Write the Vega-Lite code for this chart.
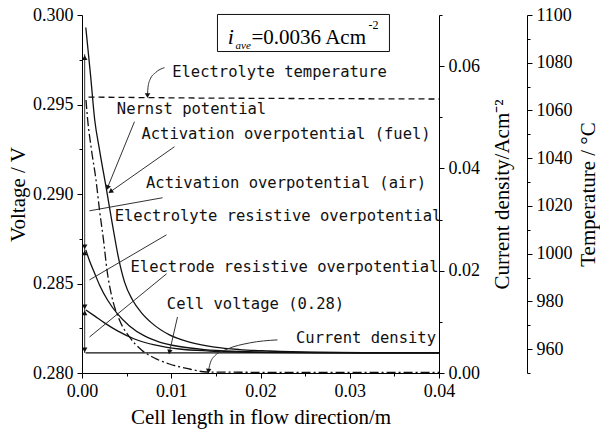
{
  "$schema": "https://vega.github.io/schema/vega-lite/v6.json",
  "width": 357,
  "height": 358,
  "autosize": {"type": "none"},
  "padding": {"left": 82, "top": 15, "right": 161, "bottom": 61},
  "background": "white",
  "config": {
    "view": {"stroke": null},
    "axis": {
      "domainColor": "#000", "tickColor": "#000", "labelColor": "#000", "titleColor": "#000",
      "labelFont": "Liberation Serif", "titleFont": "Liberation Serif",
      "labelFontSize": 18, "titleFontSize": 21, "titleFontWeight": "normal",
      "grid": false, "labelOverlap": false, "labelFlush": false, "labelBound": false,
      "domainWidth": 1, "tickWidth": 1
    }
  },
  "datasets": {
    "volt": [
      {"s": "Nernst", "x": 0.000426, "v": 0.29930},
      {"s": "Nernst", "x": 0.000952, "v": 0.29667},
      {"s": "Nernst", "x": 0.001423, "v": 0.29415},
      {"s": "Nernst", "x": 0.001961, "v": 0.29247},
      {"s": "Nernst", "x": 0.002745, "v": 0.29024},
      {"s": "Nernst", "x": 0.003417, "v": 0.28828},
      {"s": "Nernst", "x": 0.00409, "v": 0.28643},
      {"s": "Nernst", "x": 0.00476, "v": 0.28509},
      {"s": "Nernst", "x": 0.00566, "v": 0.28408},
      {"s": "Nernst", "x": 0.00667, "v": 0.28336},
      {"s": "Nernst", "x": 0.00779, "v": 0.28280},
      {"s": "Nernst", "x": 0.0098, "v": 0.28213},
      {"s": "Nernst", "x": 0.01204, "v": 0.28173},
      {"s": "Nernst", "x": 0.01485, "v": 0.28145},
      {"s": "Nernst", "x": 0.01765, "v": 0.28131},
      {"s": "Nernst", "x": 0.02101, "v": 0.28123},
      {"s": "Nernst", "x": 0.02549, "v": 0.28116},
      {"s": "Nernst", "x": 0.03221, "v": 0.28113},
      {"s": "Nernst", "x": 0.04, "v": 0.28112},
      {"s": "c2", "x": 0.000426, "v": 0.28688},
      {"s": "c2", "x": 0.00084, "v": 0.28627},
      {"s": "c2", "x": 0.0014, "v": 0.28559},
      {"s": "c2", "x": 0.00196, "v": 0.28492},
      {"s": "c2", "x": 0.00286, "v": 0.28408},
      {"s": "c2", "x": 0.00398, "v": 0.28330},
      {"s": "c2", "x": 0.00532, "v": 0.28263},
      {"s": "c2", "x": 0.007, "v": 0.28207},
      {"s": "c2", "x": 0.00868, "v": 0.28173},
      {"s": "c2", "x": 0.01092, "v": 0.28148},
      {"s": "c2", "x": 0.01373, "v": 0.28131},
      {"s": "c2", "x": 0.01765, "v": 0.28121},
      {"s": "c2", "x": 0.02325, "v": 0.28115},
      {"s": "c2", "x": 0.03109, "v": 0.28113},
      {"s": "c2", "x": 0.04, "v": 0.28112},
      {"s": "c3", "x": 0.000426, "v": 0.28352},
      {"s": "c3", "x": 0.0014, "v": 0.28319},
      {"s": "c3", "x": 0.00252, "v": 0.28280},
      {"s": "c3", "x": 0.00398, "v": 0.28235},
      {"s": "c3", "x": 0.00588, "v": 0.28190},
      {"s": "c3", "x": 0.00812, "v": 0.28157},
      {"s": "c3", "x": 0.01092, "v": 0.28134},
      {"s": "c3", "x": 0.01429, "v": 0.28123},
      {"s": "c3", "x": 0.01877, "v": 0.28116},
      {"s": "c3", "x": 0.02661, "v": 0.28113},
      {"s": "c3", "x": 0.04, "v": 0.28112},
      {"s": "cell", "x": 0.0004, "v": 0.28112},
      {"s": "cell", "x": 0.04, "v": 0.28112}
    ],
    "cd": [
      {"x": 0.000448, "j": 0.05338},
      {"x": 0.000616, "j": 0.04986},
      {"x": 0.001064, "j": 0.04360},
      {"x": 0.001569, "j": 0.03773},
      {"x": 0.001961, "j": 0.03187},
      {"x": 0.00241, "j": 0.02600},
      {"x": 0.0028, "j": 0.02014},
      {"x": 0.0033, "j": 0.01525},
      {"x": 0.0042, "j": 0.01036},
      {"x": 0.00532, "j": 0.00704},
      {"x": 0.00667, "j": 0.00450},
      {"x": 0.00812, "j": 0.00293},
      {"x": 0.0098, "j": 0.00176},
      {"x": 0.01204, "j": 0.00078},
      {"x": 0.01395, "j": 0.00020},
      {"x": 0.01989, "j": 0.00014},
      {"x": 0.02997, "j": 0.00014},
      {"x": 0.04, "j": 0.00014}
    ],
    "temp": [
      {"x": 0.00073, "T": 1065.6},
      {"x": 0.01317, "T": 1065.2},
      {"x": 0.02437, "T": 1065.0},
      {"x": 0.04, "T": 1064.8}
    ],
    "ptr": [
      {"id": "Nernst", "x": 0.00588, "v": 0.29404, "x2": 0.002857, "v2": 0.29035},
      {"id": "fuel", "x": 0.01036, "v": 0.29264, "x2": 0.003193, "v2": 0.29013},
      {"id": "air", "x": 0.00902, "v": 0.28979, "x2": 0.00084, "v2": 0.28906},
      {"id": "electrolyte", "x": 0.00947, "v": 0.28772, "x2": 0.00084, "v2": 0.28520},
      {"id": "electrode", "x": 0.00947, "v": 0.28554, "x2": 0.00084, "v2": 0.28201},
      {"id": "cell", "x": 0.0107, "v": 0.28313, "x2": 0.0098, "v2": 0.28117},
      {"id": "span", "x": 0.0003, "v": 0.29781, "x2": 0.0003, "v2": 0.28112}
    ],
    "ptrc": [
      {"id": "temp", "o": 1, "x": 0.00924, "v": 0.29706},
      {"id": "temp", "o": 2, "x": 0.00824, "v": 0.29678},
      {"id": "temp", "o": 3, "x": 0.00762, "v": 0.29639},
      {"id": "temp", "o": 4, "x": 0.00739, "v": 0.29594},
      {"id": "temp", "o": 5, "x": 0.00734, "v": 0.29550},
      {"id": "cd", "o": 1, "x": 0.0219, "v": 0.28185},
      {"id": "cd", "o": 2, "x": 0.01877, "v": 0.28168},
      {"id": "cd", "o": 3, "x": 0.0163, "v": 0.28134},
      {"id": "cd", "o": 4, "x": 0.01485, "v": 0.28095},
      {"id": "cd", "o": 5, "x": 0.01434, "v": 0.28050},
      {"id": "cd", "o": 6, "x": 0.01417, "v": 0.28011}
    ],
    "heads": [
      {"x": 0.002857, "v": 0.29035, "angle": 202},
      {"x": 0.003193, "v": 0.29013, "angle": 235},
      {"x": 0.0098, "v": 0.28117, "angle": 193},
      {"x": 0.00734, "v": 0.29550, "angle": 180},
      {"x": 0.01417, "v": 0.28011, "angle": 185},
      {"x": 0.0003, "v": 0.29762, "angle": 0},
      {"x": 0.0003, "v": 0.28705, "angle": 180},
      {"x": 0.0003, "v": 0.28671, "angle": 0},
      {"x": 0.0003, "v": 0.28369, "angle": 180},
      {"x": 0.0003, "v": 0.28336, "angle": 0},
      {"x": 0.0003, "v": 0.28129, "angle": 180}
    ],
    "labels": [
      {"t": "Electrolyte temperature", "x": 0.02213, "v": 0.29684},
      {"t": "Nernst potential", "x": 0.01227, "v": 0.29477},
      {"t": "Activation overpotential (fuel)", "x": 0.02286, "v": 0.29337},
      {"t": "Activation overpotential (air)", "x": 0.02286, "v": 0.29063},
      {"t": "Electrolyte resistive overpotential", "x": 0.02196, "v": 0.28878},
      {"t": "Electrode resistive overpotential", "x": 0.02269, "v": 0.2859},
      {"t": "Cell voltage (0.28)", "x": 0.01944, "v": 0.28386},
      {"t": "Current density", "x": 0.03182, "v": 0.28196}
    ]
  },
  "layer": [
    {
      "layer": [
        {
          "data": {"name": "volt"},
          "mark": {"type": "line", "color": "#111", "strokeWidth": 1.3, "interpolate": "monotone"},
          "encoding": {
            "x": {"field": "x", "type": "quantitative", "scale": {"domain": [0, 0.04], "nice": false, "zero": false},
              "axis": {"values": [0, 0.005, 0.01, 0.015, 0.02, 0.025, 0.03, 0.035, 0.04],
                "labelExpr": "abs(datum.value*100 - round(datum.value*100)) < 0.001 ? format(datum.value, '.2f') : ''",
                "tickSize": {"condition": {"test": "abs(datum.value*100 - round(datum.value*100)) < 0.001", "value": 5}, "value": 3},
                "labelPadding": 4, "title": "Cell length in flow direction/m", "titlePadding": 6}},
            "y": {"field": "v", "type": "quantitative", "scale": {"domain": [0.28, 0.3], "nice": false, "zero": false},
              "axis": {"orient": "left", "values": [0.28, 0.2825, 0.285, 0.2875, 0.29, 0.2925, 0.295, 0.2975, 0.3],
                "labelExpr": "abs(datum.value*200 - round(datum.value*200)) < 0.001 ? format(datum.value, '.3f') : ''",
                "tickSize": {"condition": {"test": "abs(datum.value*200 - round(datum.value*200)) < 0.001", "value": 5}, "value": 3},
                "labelPadding": 4, "title": "Voltage / V", "titlePadding": 4}},
            "detail": {"field": "s", "type": "nominal"}
          }
        },
        {
          "data": {"name": "ptr"},
          "mark": {"type": "rule", "color": "#333", "strokeWidth": 1},
          "encoding": {
            "x": {"field": "x", "type": "quantitative"},
            "y": {"field": "v", "type": "quantitative"},
            "x2": {"field": "x2"},
            "y2": {"field": "v2"}
          }
        },
        {
          "data": {"name": "ptrc"},
          "mark": {"type": "line", "color": "#333", "strokeWidth": 1, "interpolate": "monotone"},
          "encoding": {
            "x": {"field": "x", "type": "quantitative"},
            "y": {"field": "v", "type": "quantitative"},
            "detail": {"field": "id", "type": "nominal"},
            "order": {"field": "o", "type": "quantitative"}
          }
        },
        {
          "data": {"name": "heads"},
          "mark": {"type": "point", "shape": "triangle-up", "filled": true, "color": "#111", "size": 30, "opacity": 1},
          "encoding": {
            "x": {"field": "x", "type": "quantitative"},
            "y": {"field": "v", "type": "quantitative"},
            "angle": {"field": "angle", "type": "quantitative", "scale": null}
          }
        },
        {
          "data": {"name": "labels"},
          "mark": {"type": "text", "font": "DejaVu Sans Mono", "fontSize": 15.5, "color": "#111", "align": "center", "baseline": "middle"},
          "encoding": {
            "x": {"field": "x", "type": "quantitative"},
            "y": {"field": "v", "type": "quantitative"},
            "text": {"field": "t"}
          }
        },
        {
          "data": {"values": [{"x": 0.01518, "x2": 0.03445, "v": 0.30003, "v2": 0.29796}]},
          "mark": {"type": "rect", "fill": "white", "stroke": "#111", "strokeWidth": 1},
          "encoding": {
            "x": {"field": "x", "type": "quantitative"},
            "x2": {"field": "x2"},
            "y": {"field": "v", "type": "quantitative"},
            "y2": {"field": "v2"}
          }
        },
        {
          "data": {"values": [{"t": "i", "x": 0.01633, "v": 0.2984}]},
          "mark": {"type": "text", "font": "Liberation Serif", "fontStyle": "italic", "fontSize": 22, "color": "#000", "align": "left", "baseline": "alphabetic"},
          "encoding": {"x": {"field": "x", "type": "quantitative"}, "y": {"field": "v", "type": "quantitative"}, "text": {"field": "t"}}
        },
        {
          "data": {"values": [{"t": "ave", "x": 0.0172, "v": 0.29812}]},
          "mark": {"type": "text", "font": "Liberation Serif", "fontStyle": "italic", "fontSize": 11, "color": "#000", "align": "left", "baseline": "alphabetic"},
          "encoding": {"x": {"field": "x", "type": "quantitative"}, "y": {"field": "v", "type": "quantitative"}, "text": {"field": "t"}}
        },
        {
          "data": {"values": [{"t": "=0.0036 Acm", "x": 0.01899, "v": 0.2984}]},
          "mark": {"type": "text", "font": "Liberation Serif", "fontSize": 21, "color": "#000", "align": "left", "baseline": "alphabetic"},
          "encoding": {"x": {"field": "x", "type": "quantitative"}, "y": {"field": "v", "type": "quantitative"}, "text": {"field": "t"}}
        },
        {
          "data": {"values": [{"t": "-2", "x": 0.0321, "v": 0.29919}]},
          "mark": {"type": "text", "font": "Liberation Serif", "fontSize": 12, "color": "#000", "align": "left", "baseline": "alphabetic"},
          "encoding": {"x": {"field": "x", "type": "quantitative"}, "y": {"field": "v", "type": "quantitative"}, "text": {"field": "t"}}
        }
      ]
    },
    {
      "data": {"name": "cd"},
      "mark": {"type": "line", "color": "#111", "strokeWidth": 1.3, "strokeDash": [9, 3, 2, 3], "interpolate": "monotone"},
      "encoding": {
        "x": {"field": "x", "type": "quantitative"},
        "y": {"field": "j", "type": "quantitative", "scale": {"domain": [0, 0.07], "nice": false, "zero": false},
          "axis": {"orient": "right", "values": [0, 0.01, 0.02, 0.03, 0.04, 0.05, 0.06, 0.07],
            "labelExpr": "abs(datum.value*50 - round(datum.value*50)) < 0.001 ? format(datum.value, '.2f') : ''",
            "tickSize": {"condition": {"test": "abs(datum.value*50 - round(datum.value*50)) < 0.001", "value": 5}, "value": 3},
            "labelPadding": 4, "title": "Current density/Acm⁻²", "titleAngle": 270, "titlePadding": 33}}
      }
    },
    {
      "data": {"name": "temp"},
      "mark": {"type": "line", "color": "#111", "strokeWidth": 1.3, "strokeDash": [6, 4]},
      "encoding": {
        "x": {"field": "x", "type": "quantitative"},
        "y": {"field": "T", "type": "quantitative", "scale": {"domain": [950, 1100], "nice": false, "zero": false},
          "axis": {"orient": "right", "offset": 88, "values": [950, 960, 970, 980, 990, 1000, 1010, 1020, 1030, 1040, 1050, 1060, 1070, 1080, 1090, 1100],
            "labelExpr": "datum.value % 20 == 0 ? format(datum.value, 'd') : ''",
            "tickSize": {"condition": {"test": "datum.value % 20 == 0", "value": 5}, "value": 3},
            "labelPadding": 4, "title": "Temperature / °C", "titleAngle": 270, "titlePadding": 26}}
      }
    }
  ],
  "resolve": {"scale": {"y": "independent"}}
}
